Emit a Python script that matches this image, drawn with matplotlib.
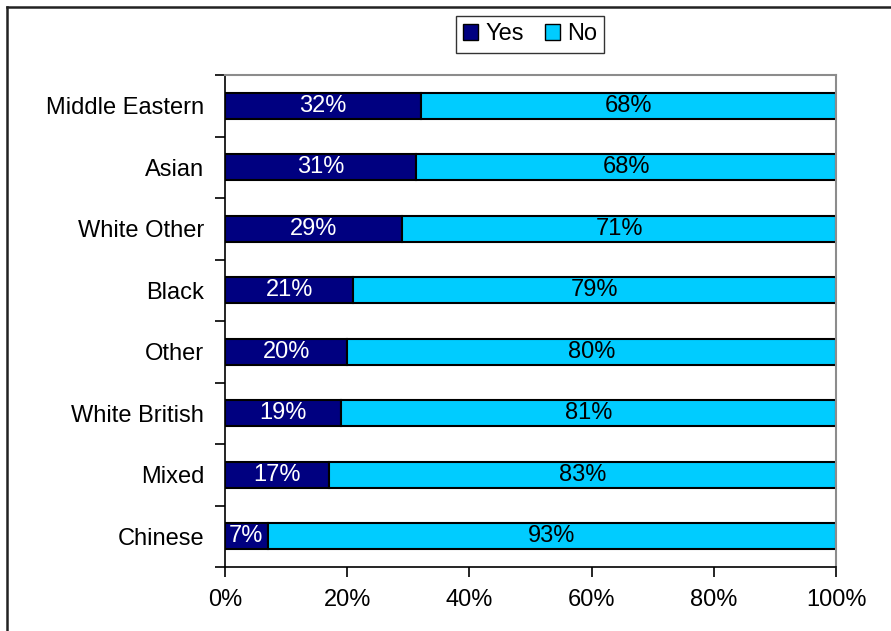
import matplotlib.pyplot as plt
from matplotlib.patches import Patch
from matplotlib.lines import Line2D

# Survey answers by ethnic group (percent)
groups = ["Middle Eastern", "Asian", "White Other", "Black", "Other",
          "White British", "Mixed", "Chinese"]
yes_pct = [32, 31, 29, 21, 20, 19, 17, 7]
no_pct = [68, 68, 71, 79, 80, 81, 83, 93]

yes_color = "#000080"
no_color = "#00CCFF"
fs = 17

plt.rcParams["font.family"] = ["Liberation Sans", "DejaVu Sans"]

fig = plt.figure(figsize=(8.91, 6.31), dpi=100)
ax = fig.add_axes([225 / 891, 1 - 567 / 631, (836 - 225) / 891, (567 - 75) / 631])

# 100% stacked: each row scaled to its own total
y = list(range(len(groups)))[::-1]
totals = [a + b for a, b in zip(yes_pct, no_pct)]
yes_w = [a / t * 100 for a, t in zip(yes_pct, totals)]
no_w = [b / t * 100 for b, t in zip(no_pct, totals)]

ax.barh(y, yes_w, height=0.42, color=yes_color, edgecolor="black", linewidth=1.5)
ax.barh(y, no_w, left=yes_w, height=0.42, color=no_color, edgecolor="black", linewidth=1.5)

for yi, a, b, wa, wb in zip(y, yes_pct, no_pct, yes_w, no_w):
    ax.text(wa / 2, yi, f"{a}%", ha="center", va="center", color="white", fontsize=fs)
    ax.text(wa + wb / 2, yi, f"{b}%", ha="center", va="center", color="black", fontsize=fs)

ax.set_xlim(0, 100)
ax.set_ylim(-0.5, len(groups) - 0.5)

ax.set_xticks([0, 20, 40, 60, 80, 100])
ax.set_xticklabels(["0%", "20%", "40%", "60%", "80%", "100%"], fontsize=fs)
ax.tick_params(axis="x", direction="out", length=7, width=1.2, pad=9)

# category labels, with ticks on the boundaries between rows
ax.set_yticks(y)
ax.set_yticklabels(groups, fontsize=fs)
ax.set_yticks([i - 0.5 for i in range(len(groups) + 1)], minor=True)
ax.tick_params(axis="y", which="major", length=0, pad=15)
ax.tick_params(axis="y", which="minor", direction="out", length=7, width=1.2)

ax.spines["left"].set_color("black")
ax.spines["bottom"].set_color("black")
ax.spines["left"].set_linewidth(1.2)
ax.spines["bottom"].set_linewidth(1.2)
ax.spines["top"].set_color("#8c8c8c")
ax.spines["right"].set_color("#8c8c8c")
ax.spines["top"].set_linewidth(1.5)
ax.spines["right"].set_linewidth(1.5)

handles = [Patch(facecolor=yes_color, edgecolor="black", label="Yes"),
           Patch(facecolor=no_color, edgecolor="black", label="No")]
leg = fig.legend(handles=handles, loc="center", bbox_to_anchor=(530 / 891, 1 - 34.5 / 631),
                 ncol=2, fontsize=fs, frameon=True, fancybox=False,
                 handlelength=0.65, handleheight=0.65, handletextpad=0.3,
                 columnspacing=0.9, borderpad=0.3, borderaxespad=0)
leg.get_frame().set_edgecolor("black")
leg.get_frame().set_linewidth(1.0)

# outer chart frame
fx, fy = 7 / 891, 1 - 7 / 631
fig.add_artist(Line2D([fx, fx], [0, fy], transform=fig.transFigure, color="#222222", lw=1.8))
fig.add_artist(Line2D([fx, 1], [fy, fy], transform=fig.transFigure, color="#222222", lw=1.8))

fig.savefig("out.png", dpi=100, facecolor="white")
